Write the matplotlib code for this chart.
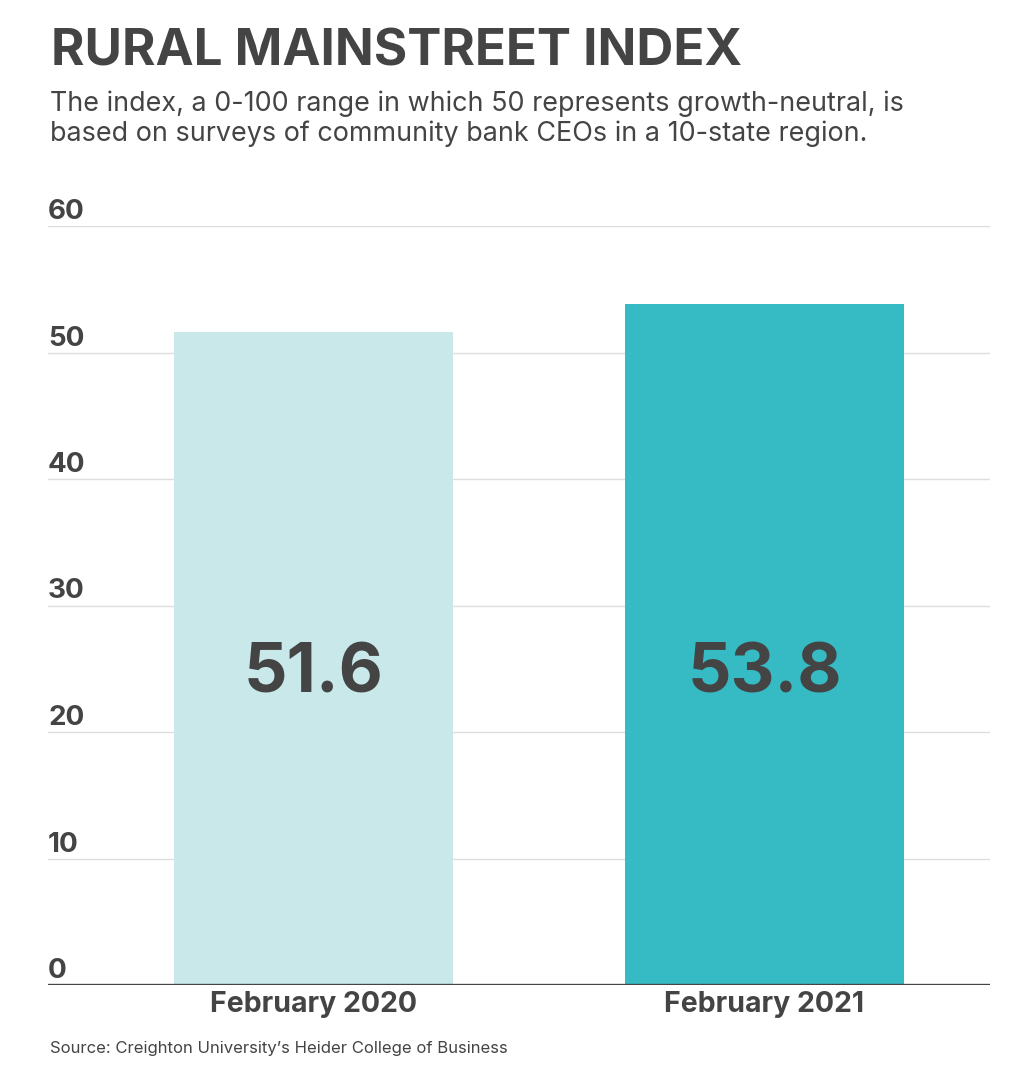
import matplotlib

matplotlib.use("Agg")
import matplotlib.pyplot as plt

# data
periods = ["February 2020", "February 2021"]
index_values = [51.6, 53.8]
bar_colors = ["#c8e8e9", "#36bac4"]
y_ticks = [0, 10, 20, 30, 40, 50, 60]

TEXT = "#444444"
FONT = ["Inter", "DejaVu Sans"]
plt.rcParams["font.family"] = FONT

W, H = 1023, 1073
fig = plt.figure(figsize=(W / 100, H / 100), dpi=100)

# axes box in pixel coords: x 48..990, baseline 985, top (60) at 226
left, right, bottom, top = 48, 990, 985, 226
ax = fig.add_axes([left / W, 1 - bottom / H, (right - left) / W, (bottom - top) / H])

x = list(range(len(periods)))
ax.bar(x, index_values, width=0.619, color=bar_colors, zorder=2)
ax.set_xlim(-0.589, 1.5)
ax.set_ylim(0, 60)

for yt in y_ticks[1:]:
    ax.axhline(yt, color="#dddddd", linewidth=1, zorder=1)
ax.axhline(0, color="#444444", linewidth=2.4, zorder=3)

for s in ax.spines.values():
    s.set_visible(False)
ax.set_xticks([])
ax.set_yticks([])

# y tick labels sit just above their gridlines, left aligned
for yt in y_ticks:
    ax.annotate(str(yt), xy=(0, yt), xycoords=("axes fraction", "data"),
                xytext=(0, 7), textcoords="offset pixels",
                ha="left", va="baseline", fontsize=20, fontweight="bold", color=TEXT)

for xi, v, lab in zip(x, index_values, periods):
    ax.text(xi, 23.1, f"{v:.1f}", ha="center", va="baseline",
            fontsize=49, fontweight="bold", color=TEXT, zorder=4)
    ax.annotate(lab, xy=(xi, 0), xycoords="data", xytext=(0, -27),
                textcoords="offset pixels", ha="center", va="baseline",
                fontsize=20.5, fontweight="bold", color=TEXT)

fig.text(51 / W, 1 - 66 / H, "RURAL MAINSTREET INDEX", ha="left", va="baseline",
         fontsize=36.8, fontweight="bold", color=TEXT)
subtitle = [
    "The index, a 0-100 range in which 50 represents growth-neutral, is",
    "based on surveys of community bank CEOs in a 10-state region.",
]
for i, line in enumerate(subtitle):
    fig.text(50 / W, 1 - (111 + 30 * i) / H, line, ha="left", va="baseline",
             fontsize=19.4, color=TEXT)
fig.text(50 / W, 1 - 1053 / H, "Source: Creighton University\u2019s Heider College of Business",
         ha="left", va="baseline", fontsize=12, color=TEXT)

fig.savefig("out.png", dpi=100)
